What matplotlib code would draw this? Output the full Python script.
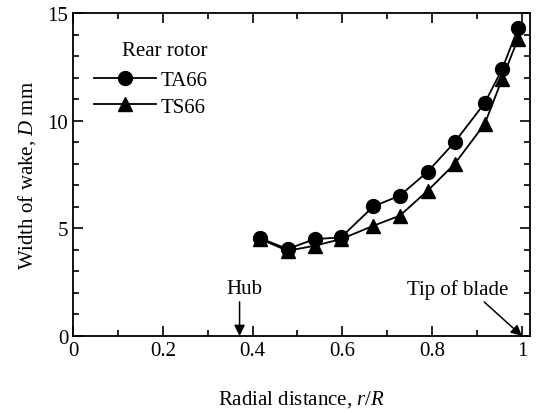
"""Wake width vs radial distance, rear rotor TA66 / TS66."""
import matplotlib.pyplot as plt
from matplotlib.ticker import MultipleLocator

plt.rcParams["font.family"] = ["Liberation Serif", "DejaVu Serif"]
plt.rcParams["mathtext.fontset"] = "custom"
plt.rcParams["mathtext.it"] = "Liberation Serif:italic"
plt.rcParams["mathtext.rm"] = "Liberation Serif"

r_ta66 = [0.417, 0.478, 0.538, 0.597, 0.669, 0.728, 0.790, 0.850, 0.917, 0.956, 0.991]
d_ta66 = [4.54, 4.04, 4.50, 4.58, 6.02, 6.52, 7.63, 9.00, 10.82, 12.40, 14.29]
r_ts66 = [0.417, 0.478, 0.538, 0.597, 0.669, 0.728, 0.790, 0.850, 0.917, 0.956, 0.991]
d_ts66 = [4.50, 3.96, 4.19, 4.50, 5.12, 5.59, 6.75, 7.99, 9.85, 11.94, 13.79]

FS = 15

fig = plt.figure(figsize=(5.37, 4.14), dpi=100)
ax = fig.add_axes([0.136, 0.186, 0.851, 0.780])

ax.plot(r_ta66, d_ta66, "-o", color="black", markersize=10, linewidth=1.3,
        label="TA66", zorder=3)
ax.plot(r_ts66, d_ts66, "-^", color="black", markersize=10, linewidth=1.3,
        label="TS66", zorder=2)

ax.set_xlim(0, 1.018)
ax.set_ylim(0, 15)
ax.xaxis.set_minor_locator(MultipleLocator(0.1))
ax.yaxis.set_major_locator(MultipleLocator(5))
ax.yaxis.set_minor_locator(MultipleLocator(1))
ax.set_xticks([0, 0.2, 0.4, 0.6, 0.8, 1.0])
ax.set_xticklabels(["0", "0.2", "0.4", "0.6", "0.8", "1"])
ax.tick_params(which="both", direction="in", top=True, right=True,
               labelsize=FS, width=1.2)
ax.tick_params(which="major", length=7)
ax.tick_params(which="minor", length=4)
for s in ax.spines.values():
    s.set_linewidth(1.3)

ax.set_xlabel("Radial distance, $r/R$", fontsize=FS, labelpad=20)
ax.set_ylabel("Width of wake, $D$ mm", fontsize=FS, labelpad=7)

leg = ax.legend(title="Rear rotor", loc="upper left",
                bbox_to_anchor=(0.027, 0.94), borderaxespad=0,
                frameon=False, fontsize=FS, title_fontsize=FS,
                handlelength=3.0, handletextpad=0.2, labelspacing=0.32,
                alignment="right")
leg._legend_box.sep = 8

# hub and blade tip markers
ax.text(0.382, 2.2, "Hub", fontsize=FS, ha="center", va="center")
ax.annotate("", xy=(0.371, 0), xytext=(0.371, 1.58),
            arrowprops=dict(arrowstyle="-|>", color="black", lw=1.1,
                            shrinkA=0, shrinkB=0, mutation_scale=16))
ax.text(0.856, 2.2, "Tip of blade", fontsize=FS, ha="center", va="center")
ax.annotate("", xy=(1.0, 0), xytext=(0.916, 1.58),
            arrowprops=dict(arrowstyle="-|>", color="black", lw=1.1,
                            shrinkA=0, shrinkB=0, mutation_scale=16))

fig.savefig("out.png", dpi=100)
